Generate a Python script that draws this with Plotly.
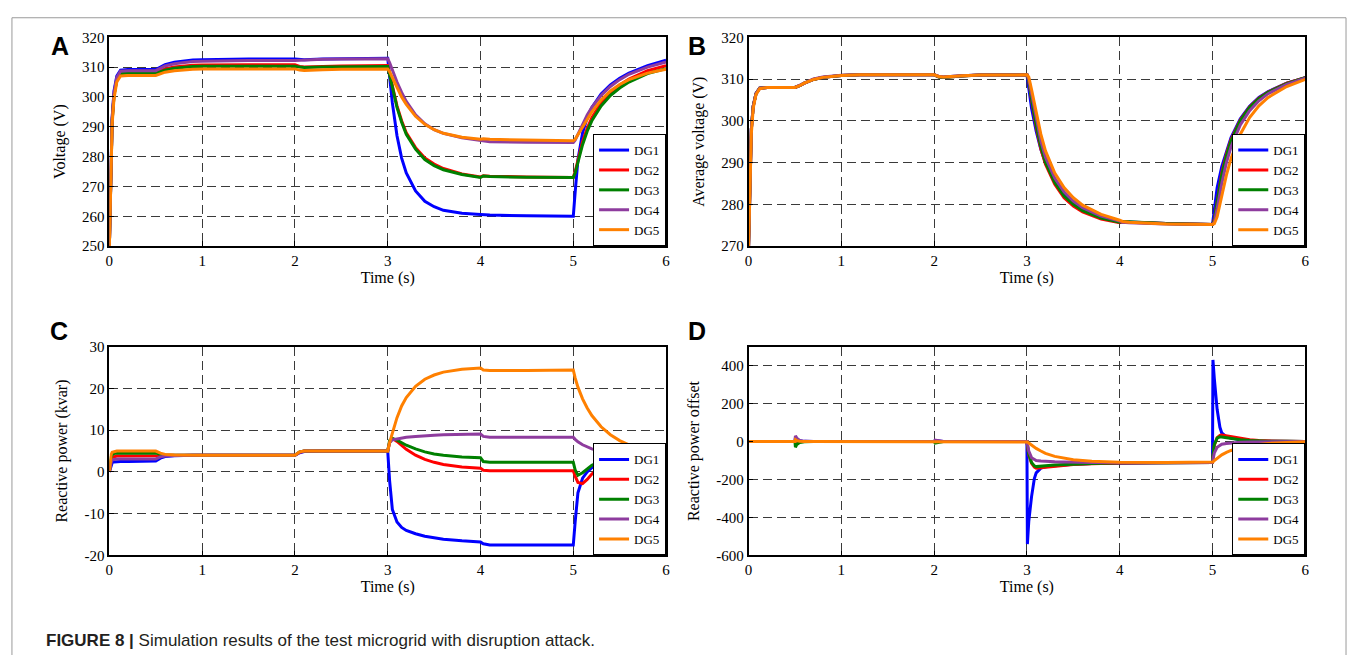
import plotly.graph_objects as go

W, H = 1354, 663

series_names = ["DG1", "DG2", "DG3", "DG4", "DG5"]
series_colors = ["#0000ff", "#ff0000", "#008000", "#8e3c9e", "#ff8000"]

# ---------------- time bases (s) ----------------
t_main = [0, 0.01, 0.02, 0.03, 0.05, 0.08, 0.12, 0.2,
          0.5, 0.55, 0.6, 0.7, 0.8, 0.9, 1.0, 1.2, 1.5,
          2.0, 2.05, 2.1, 2.3, 2.5,
          3.0, 3.02, 3.05, 3.1, 3.15, 3.2, 3.3, 3.4, 3.5, 3.6, 3.8,
          4.0, 4.03, 4.1, 4.5,
          5.0, 5.02, 5.05, 5.1, 5.15, 5.2, 5.3, 5.4, 5.5, 5.6, 5.8, 6.0]

t_offset = [0, 0.5, 0.505, 0.52, 0.55, 0.6, 0.7,
            2.0, 2.01, 2.05, 2.1,
            3.0, 3.005, 3.02, 3.05, 3.08, 3.1, 3.15, 3.2, 3.3, 3.4, 3.5, 3.7,
            4.0, 4.5,
            5.0, 5.005, 5.02, 5.05, 5.08, 5.1, 5.15, 5.2, 5.3, 5.4, 5.5, 5.6, 5.8, 6.0]

# ---------------- Panel A: Voltage (V) ----------------
volt_dg1 = [250, 268, 283, 293, 302, 307, 309, 309.2,
            309.2, 310, 310.8, 311.6, 312.1, 312.4, 312.5, 312.6, 312.7,
            312.7, 312.5, 312.5, 312.7, 312.8,
            313, 307, 298, 287, 279.5, 274.5, 268.5, 265, 263.2, 262, 261,
            260.6, 260.5, 260.4, 260.2,
            260, 268, 279, 288, 293, 296.5, 301, 304, 306.3, 308, 310.5, 312.3]
volt_dg2 = [250, 267, 282, 292, 300.5, 306, 308, 308.2,
            308.2, 308.8, 309.4, 310, 310.4, 310.6, 310.7, 310.8, 310.8,
            310.8, 310.2, 310, 310.2, 310.4,
            310.5, 308, 303.5, 297, 292, 288, 283, 279.5, 277.5, 276, 274.2,
            273.2, 273.6, 273.4, 273.2,
            273, 275, 279, 285, 289.5, 293, 298, 301.5, 304, 306, 308.8, 310.5]
volt_dg3 = [250, 267, 282, 292, 300.5, 305.8, 307.8, 308,
            308, 308.5, 309, 309.6, 310, 310.2, 310.3, 310.3, 310.3,
            310.3, 310, 309.9, 310, 310.1,
            310.2, 307.5, 303, 296.5, 291.5, 287.5, 282.5, 279, 277, 275.6, 274,
            273, 273.5, 273.3, 273.1,
            273, 274.5, 278, 284, 288.5, 292, 297, 300.5, 303, 305, 307.8, 309.5]
volt_dg4 = [250, 268, 283, 293, 301.5, 306.5, 308.6, 308.8,
            308.8, 309.6, 310.4, 311.1, 311.6, 311.9, 312, 312.1, 312.2,
            312.2, 312.3, 312.4, 312.6, 312.7,
            312.8, 311.5, 309, 305, 301.5, 298.5, 294, 291, 289, 287.8, 286.3,
            285.5, 285.2, 285, 284.8,
            284.7, 285.5, 287.5, 291, 294, 296.5, 300.5, 303.5, 305.8, 307.6, 310, 311.7]
volt_dg5 = [250, 266, 281, 291, 299.5, 305, 307, 307.2,
            307.2, 307.8, 308.3, 308.8, 309.1, 309.3, 309.4, 309.4, 309.4,
            309.4, 309, 308.9, 309.1, 309.3,
            309.4, 308.5, 306.5, 303, 300, 297.5, 293.5, 290.8, 289, 287.8, 286.5,
            285.8, 286, 285.8, 285.5,
            285.3, 285.8, 287.3, 290, 292.5, 295, 299, 302, 304.2, 305.8, 308, 309.3]

# ---------------- Panel B: Average voltage (V) ----------------
avg_dg1 = [270, 280, 290, 298, 303.5, 306.5, 307.8, 308,
           308, 308.4, 309, 309.9, 310.4, 310.7, 310.85, 311, 311,
           311, 310.6, 310.5, 310.8, 310.95,
           311, 307.5, 303, 297.5, 293.2, 290, 285.5, 282.3, 280.2, 278.8, 276.8,
           275.7, 275.9, 275.8, 275.4,
           275.2, 279, 284, 289, 292.8, 296, 300.5, 303.5, 305.6, 307, 309, 310.3]
avg_dg2 = [270, 280, 290, 298, 303.5, 306.5, 307.8, 308,
           308, 308.4, 309, 309.9, 310.4, 310.7, 310.85, 311, 311,
           311, 310.5, 310.4, 310.75, 310.95,
           311, 309.5, 305, 298.5, 293.3, 289.6, 284.8, 281.6, 279.6, 278.2, 276.5,
           275.6, 275.8, 275.7, 275.4,
           275.2, 276.5, 281, 287.5, 292, 295.5, 300.2, 303.3, 305.4, 306.9, 309, 310.3]
avg_dg3 = [270, 280, 290, 298, 303.5, 306.5, 307.8, 308,
           308, 308.4, 309, 309.9, 310.4, 310.7, 310.85, 311, 311,
           311, 310.5, 310.4, 310.75, 310.95,
           311, 309.6, 305.3, 299, 293.8, 290, 285.2, 282, 280, 278.5, 276.7,
           275.7, 275.9, 275.8, 275.4,
           275.2, 276.2, 280.5, 287, 291.6, 295.2, 300, 303.2, 305.3, 306.8, 308.9, 310.3]
avg_dg4 = [270, 280, 290, 298, 303.5, 306.5, 307.8, 308,
           308, 308.5, 309.1, 310, 310.5, 310.75, 310.9, 311, 311,
           311, 310.6, 310.5, 310.8, 310.95,
           311, 310, 306.5, 300.5, 295.2, 291.3, 286.3, 283, 280.8, 279.2, 277.2,
           276, 275.7, 275.6, 275.3,
           275.2, 275.8, 279, 285, 290, 293.8, 299, 302.4, 304.8, 306.5, 308.7, 310.2]
avg_dg5 = [270, 279, 289, 297, 303, 306.3, 307.7, 308,
           308, 308.4, 309, 309.9, 310.4, 310.7, 310.85, 311, 311,
           311, 310.6, 310.5, 310.8, 310.95,
           311, 310.5, 307.5, 302, 296.8, 292.8, 287.5, 284, 281.6, 279.8, 277.6,
           276.2, 275.9, 275.7, 275.3,
           275.2, 275.4, 277, 282, 287, 291, 296.8, 300.8, 303.6, 305.6, 308.2, 309.9]

# ---------------- Panel C: Reactive power (kvar) ----------------
q_dg1 = [0, 1, 1.8, 2.2, 2.4, 2.5, 2.5, 2.5,
         2.6, 3.3, 3.7, 3.9, 4, 4, 4, 4, 4,
         4, 4.6, 4.9, 5, 5,
         5, -2, -9, -12, -13.3, -14, -14.8, -15.4, -15.8, -16.1, -16.5,
         -16.8, -17.2, -17.5, -17.5,
         -17.5, -12, -5, -1.5, 0, 1, 2.2, 2.9, 3.3, 3.6, 3.9, 4]
q_dg2 = [0, 2, 3, 3.5, 3.7, 3.8, 3.8, 3.8,
         3.8, 3.9, 4, 4, 4, 4, 4, 4, 4,
         4, 4.7, 5, 5, 5,
         5, 7, 8, 7.3, 6.3, 5.4, 4, 3, 2.3, 1.8, 1.2,
         0.9, 0.4, 0.3, 0.3,
         0.3, -1, -2.5, -2.8, -1.8, -0.5, 1.3, 2.4, 3, 3.4, 3.8, 4]
q_dg3 = [0, 2.5, 3.6, 4.1, 4.4, 4.5, 4.5, 4.5,
         4.5, 4.2, 4.05, 4, 4, 4, 4, 4, 4,
         4, 4.8, 5, 5, 5,
         5, 7.5, 8, 7.6, 7, 6.4, 5.5, 4.8, 4.3, 4, 3.6,
         3.4, 2.5, 2.3, 2.3,
         2.3, 0.5, -0.8, -0.2, 0.8, 1.6, 2.6, 3.2, 3.5, 3.7, 3.9, 4]
q_dg4 = [0, 1.5, 2.4, 2.8, 3, 3.1, 3.1, 3.1,
         3.1, 3.6, 3.8, 3.95, 4, 4, 4, 4, 4,
         4, 4.7, 5, 5, 5,
         5, 7, 7.7, 7.9, 8.1, 8.3, 8.5, 8.7, 8.8, 8.9, 9,
         9.1, 8.5, 8.3, 8.3,
         8.3, 7.8, 7.2, 6.5, 5.9, 5.5, 4.9, 4.5, 4.3, 4.2, 4.05, 4]
q_dg5 = [0, 3, 4.2, 4.7, 4.9, 5, 5, 5,
         5, 4.5, 4.2, 4.05, 4, 4, 4, 4, 4,
         4, 4.8, 5, 5, 5,
         5, 7, 9.5, 13, 15.8, 17.8, 20.5, 22.2, 23.2, 23.9, 24.6,
         24.9, 24.4, 24.3, 24.3,
         24.4, 22.5, 20.3, 17.5, 15.3, 13.5, 10.8, 8.9, 7.5, 6.5, 5.2, 4.4]

# ---------------- Panel D: Reactive power offset ----------------
off_dg1 = [0, 0, 20, 12, 4, 1, 0,
           0, 5, 2, 0,
           0, -540, -420, -290, -195, -165, -140, -133, -127, -123, -120, -116,
           -113, -111,
           -110, 430, 330, 170, 75, 45, 25, 18, 10, 6, 3, 2, 1, 0]
off_dg2 = [0, 0, -5, -3, -1, 0, 0,
           0, -3, -1, 0,
           0, -20, -70, -115, -135, -140, -138, -134, -128, -124, -121, -117,
           -113, -111,
           -110, -80, -20, 20, 32, 34, 30, 24, 15, 9, 5, 3, 1, 0]
off_dg3 = [0, 0, -30, -15, -5, -1, 0,
           0, -8, -3, 0,
           0, -20, -65, -110, -128, -132, -131, -128, -124, -121, -119, -116,
           -112, -111,
           -110, -75, -15, 18, 25, 24, 20, 15, 9, 5, 3, 2, 1, 0]
off_dg4 = [0, 0, 30, 18, 6, 1, 0,
           0, 8, 3, 0,
           0, -15, -50, -85, -97, -100, -103, -105, -107, -108, -109, -110,
           -110, -110,
           -110, -95, -60, -30, -18, -14, -10, -7, -4, -2, -1, 0, 0, 0]
off_dg5 = [0, 0, 10, 5, 2, 0, 0,
           0, 2, 1, 0,
           0, -2, -8, -20, -30, -36, -50, -62, -78, -89, -96, -104,
           -109, -110,
           -110, -108, -100, -88, -77, -70, -57, -47, -32, -22, -15, -10, -4, -1]

x_ticks = [0, 1, 2, 3, 4, 5, 6]
yA_ticks = [250, 260, 270, 280, 290, 300, 310, 320]
yB_ticks = [270, 280, 290, 300, 310, 320]
yC_ticks = [-20, -10, 0, 10, 20, 30]
yD_ticks = [-600, -400, -200, 0, 200, 400]

panels = [
    dict(x="x", y="y", legend="legend", t=t_main,
         data=[volt_dg1, volt_dg2, volt_dg3, volt_dg4, volt_dg5]),
    dict(x="x2", y="y2", legend="legend2", t=t_main,
         data=[avg_dg1, avg_dg2, avg_dg3, avg_dg4, avg_dg5]),
    dict(x="x3", y="y3", legend="legend3", t=t_main,
         data=[q_dg1, q_dg2, q_dg3, q_dg4, q_dg5]),
    dict(x="x4", y="y4", legend="legend4", t=t_offset,
         data=[off_dg1, off_dg2, off_dg3, off_dg4, off_dg5]),
]

fig = go.Figure()
for p in panels:
    for name, col, vals in zip(series_names, series_colors, p["data"]):
        fig.add_trace(go.Scatter(x=p["t"], y=vals, mode="lines", name=name,
                                 line=dict(color=col, width=3),
                                 xaxis=p["x"], yaxis=p["y"], legend=p["legend"]))

SERIF = "Liberation Serif"
SANS = "Liberation Sans"


def dx(l, r):
    return [l / W, r / W]


def dy(top, bot):
    return [1 - bot / H, 1 - top / H]


def labels(vals):
    return [str(v) for v in vals]  # plain hyphen-minus like the original


def xax(dom, anchor):
    return dict(domain=dom, anchor=anchor, range=[0, 6],
                tickvals=x_ticks, ticktext=labels(x_ticks),
                showline=True, linecolor="black", linewidth=1.5, mirror=True,
                ticks="inside", ticklen=5, tickcolor="black",
                showgrid=True, gridcolor="#3a3a3a", griddash="9px,5px", gridwidth=1,
                zeroline=False, tickfont=dict(family=SERIF, size=15, color="black"),
                title=dict(text="Time (s)", font=dict(family=SERIF, size=16, color="black"),
                           standoff=1))


def yax(dom, anchor, rng, ticks, title):
    return dict(domain=dom, anchor=anchor, range=rng,
                tickvals=ticks, ticktext=labels(ticks),
                showline=True, linecolor="black", linewidth=1.5, mirror=True,
                ticks="inside", ticklen=5, tickcolor="black",
                showgrid=True, gridcolor="#3a3a3a", griddash="9px,5px", gridwidth=1,
                zeroline=False, tickfont=dict(family=SERIF, size=15, color="black"),
                title=dict(text=title, font=dict(family=SERIF, size=16, color="black"),
                           standoff=13))


xL, xR = dx(106, 666), dx(749, 1309)
yT, yBt = dy(30, 244), dy(347, 561)


def leg(xd, yd):
    return dict(x=xd[1], y=yd[0], xanchor="right", yanchor="bottom",
                bgcolor="white", bordercolor="black", borderwidth=1,
                font=dict(family=SERIF, size=13, color="black"),
                itemwidth=30, tracegroupgap=0)


fig.update_layout(
    width=W, height=H, margin=dict(l=0, r=0, t=0, b=0),
    paper_bgcolor="white", plot_bgcolor="white",
    xaxis=xax(xL, "y"), yaxis=yax(yT, "x", [250, 320], yA_ticks, "Voltage (V)"),
    xaxis2=xax(xR, "y2"), yaxis2=yax(yT, "x2", [270, 320], yB_ticks, "Average voltage (V)"),
    xaxis3=xax(xL, "y3"), yaxis3=yax(yBt, "x3", [-20, 30], yC_ticks, "Reactive power (kvar)"),
    xaxis4=xax(xR, "y4"), yaxis4=yax(yBt, "x4", [-600, 500], yD_ticks, "Reactive power offset"),
    legend=leg(xL, yT), legend2=leg(xR, yT), legend3=leg(xL, yBt), legend4=leg(xR, yBt),
)

# panel letters
for letter, px, py in [("A", 56, 39), ("B", 697, 39), ("C", 55, 331), ("D", 697, 331)]:
    fig.add_annotation(text="<b>%s</b>" % letter, xref="paper", yref="paper",
                       x=px / W, y=1 - py / H,
                       xanchor="center", yanchor="middle", showarrow=False,
                       font=dict(family=SANS, size=25, color="black"))

# caption
fig.add_annotation(text="<b>FIGURE 8 |</b> Simulation results of the test microgrid with disruption attack.",
                   xref="paper", yref="paper", x=40 / W, y=1 - 648 / H,
                   xanchor="left", yanchor="middle", showarrow=False,
                   font=dict(family=SANS, size=17, color="#231f20"))

# frame around figure
bc = "#9a9a9a"
for x0, y0, x1, y1 in [(8, 663, 8, 10), (8, 10, 1350, 10), (1350, 10, 1350, 663)]:
    fig.add_shape(type="line", xref="paper", yref="paper",
                  x0=x0 / W, y0=1 - y0 / H, x1=x1 / W, y1=1 - y1 / H,
                  line=dict(color=bc, width=1))

fig.write_html("out.html")
